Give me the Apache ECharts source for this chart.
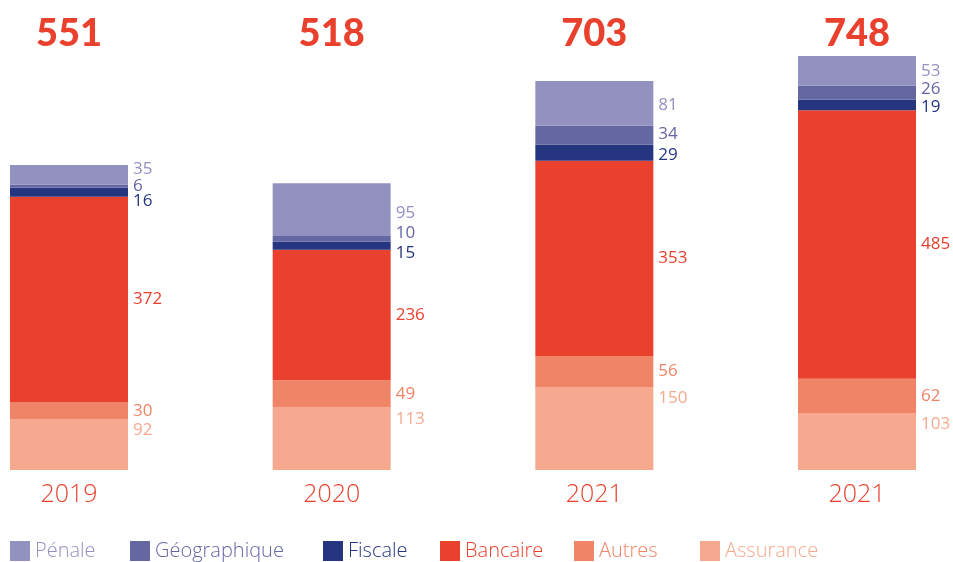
<!DOCTYPE html>
<html><head><meta charset="utf-8">
<script src="https://cdn.jsdelivr.net/npm/echarts@6/dist/echarts.min.js"></script>
<style>html,body{margin:0;padding:0;background:#fff}#c{width:953px;height:562px}</style>
</head><body><div id="c"></div>
<script>
const categories = ['2019', '2020', '2021', '2021'];
const assurance = [92, 113, 150, 103];
const autres = [30, 49, 56, 62];
const bancaire = [372, 236, 353, 485];
const fiscale = [16, 15, 29, 19];
const geographique = [6, 10, 34, 26];
const penale = [35, 95, 81, 53];
const legendOrder = ['Pénale', 'Géographique', 'Fiscale', 'Bancaire', 'Autres', 'Assurance'];
const totals = categories.map((_, i) => String(assurance[i] + autres[i] + bancaire[i] + fiscale[i] + geographique[i] + penale[i]));

// layout / style helpers (not data)
const legendLeft = [10, 130, 323, 440, 574, 700];
const fiscaleOff = [9, 8, 2, 2];
const geoOff = [0, -6, -1, -3];
const penaleOff = [-6, 3, 2, 0];

const colors = {
  'Pénale': '#9391c0',
  'Géographique': '#6567a3',
  'Fiscale': '#253580',
  'Bancaire': '#e9412e',
  'Autres': '#f08466',
  'Assurance': '#f6a98e'
};
const FONT = '"Open Sans", "Noto Sans", sans-serif';

function mk(name, values, offs, labelOpt) {
  return {
    name: name, type: 'bar', stack: 'a', barWidth: 118,
    itemStyle: { color: colors[name] },
    label: Object.assign({
      show: true, position: 'right', distance: 5,
      color: colors[name], fontSize: 17, fontFamily: FONT
    }, labelOpt || {}),
    data: values.map((v, i) => offs ? { value: v, label: { offset: [0, offs[i]] } } : v)
  };
}

const chart = echarts.init(document.getElementById('c'), null, { renderer: 'canvas' });
chart.setOption({
  animation: false,
  grid: { left: 69, right: 96, top: 55, bottom: 92 },
  legend: legendOrder.map((n, i) => ({
    left: legendLeft[i], top: 541, padding: 0, itemWidth: 20, itemHeight: 20, itemTextGap: 9,
    icon: 'rect', selectedMode: false,
    textStyle: { fontSize: 20, fontFamily: FONT, fontWeight: 300, color: colors[n] },
    data: [n]
  })),
  xAxis: [
    {
      type: 'category', data: categories, boundaryGap: false,
      axisLine: { show: false }, axisTick: { show: false }, splitLine: { show: false },
      axisLabel: { color: '#e9412e', fontSize: 25, fontFamily: FONT, fontWeight: 300, margin: 12 }
    },
    {
      type: 'category', data: totals, boundaryGap: false, position: 'top',
      axisLine: { show: false }, axisTick: { show: false }, splitLine: { show: false },
      axisLabel: { color: '#e9412e', fontSize: 38, fontFamily: 'Lato, sans-serif', fontWeight: 900, margin: 2 }
    }
  ],
  yAxis: { type: 'value', min: 0, max: 750, show: false, splitLine: { show: false } },
  series: [
    mk('Assurance', assurance, null, { position: 'insideTop', align: 'left', distance: 3, offset: [64, 0] }),
    mk('Autres', autres),
    mk('Bancaire', bancaire),
    mk('Fiscale', fiscale, fiscaleOff),
    mk('Géographique', geographique, geoOff),
    mk('Pénale', penale, penaleOff)
  ]
});
</script></body></html>
